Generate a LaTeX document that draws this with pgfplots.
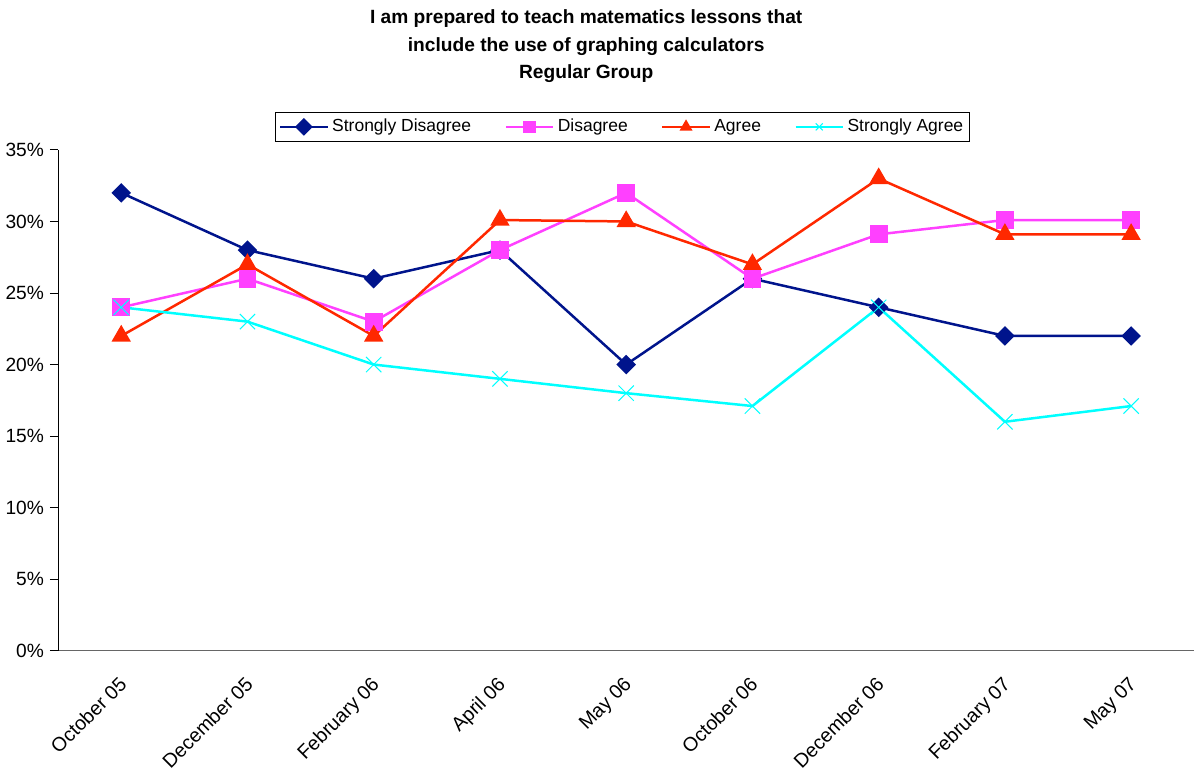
\documentclass[border=0pt]{standalone}
\usepackage{pgfplots}
\pgfplotsset{compat=1.18}
\usepackage{fontspec}
\setmainfont{Liberation Sans}
\definecolor{sdis}{RGB}{0,20,140}
\definecolor{dis}{RGB}{255,64,255}
\definecolor{agr}{RGB}{255,40,0}
\definecolor{sagr}{RGB}{0,255,255}
\begin{document}
\begin{tikzpicture}
\begin{axis}[
  scale only axis, width=682pt, height=300.6pt,
  xmin=-0.5, xmax=8.5, ymin=0, ymax=35,
  axis x line*=bottom, axis y line*=left,
  x axis line style={gray!80!black, line width=0.9pt, -},
  y axis line style={black, line width=0.7pt, -},
  xtick={0,...,8},
  xticklabels={October 05,December 05,February 06,April 06,May 06,October 06,December 06,February 07,May 07},
  x tick label style={rotate=45, anchor=north east, font=\fontsize{11.8}{13}\selectfont, xshift=-5pt, yshift=-2pt},
  xtick style={draw=none},
  minor xtick={-0.5,0.5,...,8.5},
  minor x tick style={black, line width=0.6pt},
  minor tick length=5pt,
  ytick={0,5,...,35},
  yticklabel={\pgfmathprintnumber{\tick}\%},
  y tick label style={font=\fontsize{11.5}{13}\selectfont},
  ytick style={black, line width=0.6pt},
  major tick length=5pt,
  tick align=outside,
  /pgf/number format/assume math mode=true,
  legend columns=4,
  legend style={at={(0.497,1.0)}, anchor=south, yshift=5pt, draw=black, line width=0.6pt,
    font=\fontsize{10.5}{12}\selectfont, inner sep=2pt,
    /tikz/every even column/.append style={column sep=18pt}},
  legend image post style={mark size=3pt},
  legend image code/.code={\draw[mark repeat=2,mark phase=2] plot coordinates {(0cm,0cm) (0.5cm,0cm) (1cm,0cm)};},
]
\addplot[sdis, line width=1.5pt, mark=square*, mark size=3.4pt, mark options={rotate=45, solid}]
  coordinates {(0,32) (1,28) (2,26) (3,28) (4,20) (5,26) (6,24) (7,22) (8,22)};
\addlegendentry{Strongly Disagree}
\addplot[dis, line width=1.5pt, mark=square*, mark size=4.6pt]
  coordinates {(0,24) (1,26) (2,23) (3,28) (4,32) (5,26) (6,29.1) (7,30.1) (8,30.1)};
\addlegendentry{Disagree}
\addplot[agr, line width=1.5pt, mark=triangle*, mark size=5.2pt]
  coordinates {(0,22) (1,27) (2,22) (3,30.1) (4,30) (5,27) (6,33) (7,29.1) (8,29.1)};
\addlegendentry{Agree}
\addplot[sagr, line width=1.5pt, mark=x, mark size=6.5pt, mark options={line width=0.6pt}]
  coordinates {(0,24) (1,23) (2,20) (3,19) (4,18) (5,17.1) (6,24) (7,16) (8,17.1)};
\addlegendentry{Strongly Agree}
\end{axis}
\node[align=center, font=\fontsize{11.5}{16.3}\selectfont\bfseries, anchor=north]
  (t) at (317pt, 300.6pt+87.5pt) {I am prepared to teach matematics lessons that\\include the use of graphing calculators\\Regular Group};
\path (t.north) ++(0,2.5pt);
\end{tikzpicture}
\end{document}
